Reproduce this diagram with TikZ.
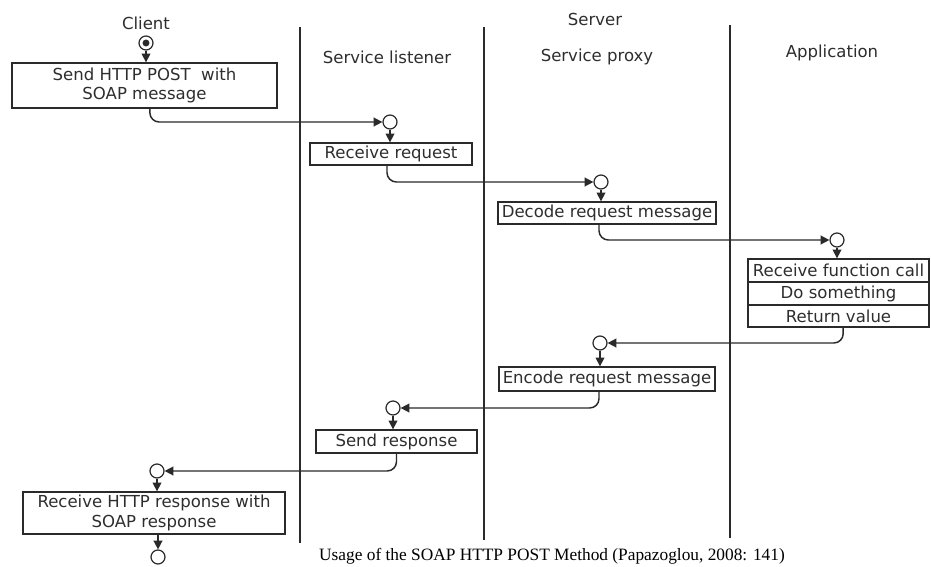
\documentclass[tikz,border=0pt]{standalone}
\usepackage{fontspec}
\setmainfont{DejaVu Sans}
\newfontfamily\capfont{Liberation Serif}
\usetikzlibrary{arrows.meta}
\definecolor{ink}{HTML}{2A2A2A}
\definecolor{txt}{HTML}{2E2E2E}
\begin{document}
\begin{tikzpicture}[x=0.75pt,y=-0.75pt,
  every node/.style={text=txt},
  lane/.style={draw=ink,line width=1.1pt},
  box/.style={draw=ink,line width=1pt,rectangle,inner sep=0pt,align=center,
    font=\fontsize{12.4}{14.5}\selectfont},
  lbl/.style={font=\fontsize{12.4}{14.5}\selectfont},
  state/.style={draw=ink,line width=0.9pt,circle,minimum size=10.5pt,inner sep=0pt,fill=white},
  flow/.style={draw=ink,line width=1.1pt,rounded corners=7pt,-{Triangle[length=6.5pt,width=6.5pt]}},
  down/.style={draw=ink,line width=1.1pt,-{Triangle[length=6.5pt,width=6.5pt]}}]
\useasboundingbox (0,0) rectangle (931,567);
\fill[white] (0,0) rectangle (931,567);

% swimlane separators
\draw[lane] (300,27) -- (300,543);
\draw[lane] (484,27) -- (484,540);
\draw[lane] (730,25) -- (730,538);

% lane headings
\node[lbl] (hclient) at (146,23) {Client};
\node[lbl] (hserver) at (595,19) {Server};
\node[lbl] (hlisten) at (387,57) {Service listener};
\node[lbl] (hproxy) at (597,57) {Service proxy};
\node[lbl] (happ) at (832,53) {Application};

% activities
\node[box,minimum width=198.75pt,minimum height=33.75pt] (sendpost) at (144.5,85.5) {Send HTTP POST\ \ with\\SOAP message};
\node[box,minimum width=121.5pt,minimum height=16.5pt] (recvreq) at (391,154) {Receive request};
\node[box,minimum width=163.5pt,minimum height=16.5pt] (decode) at (607,213) {Decode request message};
\node[box,minimum width=135.75pt,minimum height=17.25pt] (app1) at (838.5,270.5) {Receive function call};
\node[box,minimum width=135.75pt,minimum height=17.25pt] (app2) at (838.5,293.5) {Do something};
\node[box,minimum width=135.75pt,minimum height=16.5pt] (app3) at (838.5,316) {Return value};
\node[box,minimum width=162pt,minimum height=18pt] (encode) at (607,379) {Encode request message};
\node[box,minimum width=120.75pt,minimum height=17.25pt] (sendresp) at (396.5,441.5) {Send response};
\node[box,minimum width=196.5pt,minimum height=31.5pt] (recvhttp) at (154,513) {Receive HTTP response with\\SOAP response};

% start, object-flow and end markers
\node[state] (start) at (146,43) {};
\fill[ink] (start.center) circle (2.6pt);
\node[state] (c1) at (390,122) {};
\node[state] (c2) at (601,182) {};
\node[state] (c3) at (837,240) {};
\node[state] (c4) at (600,343) {};
\node[state] (c5) at (393,408) {};
\node[state] (c6) at (157,471) {};
\node[state] (finish) at (158,557) {};

% circle to activity
\draw[down] (start.south) -- (start.south |- sendpost.north);
\draw[down] (c1.south) -- (c1.south |- recvreq.north);
\draw[down] (c2.south) -- (c2.south |- decode.north);
\draw[down] (c3.south) -- (c3.south |- app1.north);
\draw[down] (c4.south) -- (c4.south |- encode.north);
\draw[down] (c5.south) -- (c5.south |- sendresp.north);
\draw[down] (c6.south) -- (c6.south |- recvhttp.north);
\draw[down] (recvhttp.south -| finish) -- (finish.north);

% activity to next lane
\draw[flow] ([xshift=4pt]sendpost.south) |- (c1.west);
\draw[flow] ([xshift=-3pt]recvreq.south) |- (c2.west);
\draw[flow] ([xshift=-6pt]decode.south) |- (c3.west);
\draw[flow] ([xshift=3.5pt]app3.south) |- (c4.east);
\draw[flow] ([xshift=-6pt]encode.south) |- (c5.east);
\draw[flow] (sendresp.south) |- (c6.east);

% caption
\node[font=\capfont\fontsize{13}{15}\selectfont,text=black] (caption) at (552,556)
  {Usage of the SOAP HTTP POST Method (Papazoglou, 2008: 141)};
\end{tikzpicture}
\end{document}
